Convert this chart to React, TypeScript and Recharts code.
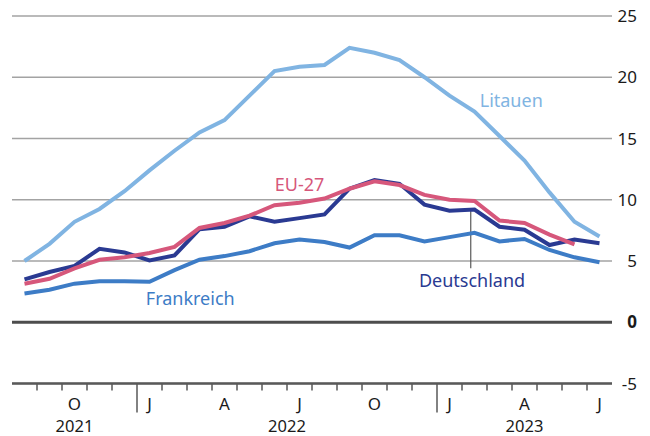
import {
  LineChart,
  Line,
  XAxis,
  YAxis,
  CartesianGrid,
  ReferenceLine,
  ReferenceDot,
} from "recharts";

// Aug 2021 .. Jul 2023, one value per month
const monthLetters = [
  "A", "S", "O", "N", "D",
  "J", "F", "M", "A", "M", "J", "J", "A", "S", "O", "N", "D",
  "J", "F", "M", "A", "M", "J", "J",
];
const litauen = [
  5.0, 6.4, 8.2, 9.25, 10.7, 12.4, 14.0, 15.5, 16.5, 18.5, 20.5, 20.85, 21.0,
  22.4, 22.0, 21.4, 20.0, 18.5, 17.2, 15.2, 13.2, 10.6, 8.2, 7.0,
];
const deutschland = [
  3.5, 4.1, 4.6, 6.0, 5.7, 5.05, 5.45, 7.6, 7.8, 8.65, 8.2, 8.5, 8.8, 10.9,
  11.6, 11.3, 9.6, 9.1, 9.2, 7.8, 7.55, 6.3, 6.75, 6.45,
];
const eu27 = [
  3.15, 3.55, 4.4, 5.1, 5.3, 5.65, 6.15, 7.7, 8.1, 8.7, 9.55, 9.75, 10.1, 10.9,
  11.5, 11.2, 10.4, 10.0, 9.9, 8.3, 8.1, 7.15, 6.35, null,
];
const frankreich = [
  2.35, 2.65, 3.15, 3.35, 3.35, 3.3, 4.25, 5.1, 5.4, 5.8, 6.45, 6.75, 6.55,
  6.1, 7.1, 7.1, 6.6, 6.95, 7.3, 6.6, 6.8, 5.9, 5.3, 4.9,
];

const quarterLabels = [2, 5, 8, 11, 14, 17, 20, 23];
const yearBreaks = [4.5, 16.5];
const yearLabels = [
  { pos: 2, text: "2021" },
  { pos: 10.5, text: "2022" },
  { pos: 20, text: "2023" },
];
const yTicks = [-5, 0, 5, 10, 15, 20, 25];

const data = monthLetters.map((m, i) => ({
  idx: i,
  month: m,
  lt: litauen[i],
  de: deutschland[i],
  eu: eu27[i],
  fr: frankreich[i],
}));

const boundaries = monthLetters.slice(1).map((_, i) => i + 0.5);
const xTicks = [...boundaries, ...quarterLabels].sort((a, b) => a - b);

const FONT = "'Noto Sans', sans-serif";

function XTick(props: any) {
  const { x, y, payload } = props;
  const v = payload.value as number;
  const year = yearLabels.find((l) => l.pos === v);
  const isBoundary = v % 1 !== 0;
  const long = yearBreaks.includes(v);
  return (
    <g>
      {isBoundary && (
        <line
          x1={x}
          x2={x}
          y1={y}
          y2={y + (long ? 29 : 7)}
          stroke="#595959"
          strokeWidth={1.5}
        />
      )}
      {!isBoundary && (
        <text
          x={x}
          y={y + 26}
          textAnchor="middle"
          fontSize={17}
          fontFamily={FONT}
          fill="#1a1a1a"
        >
          {monthLetters[v]}
        </text>
      )}
      {year && (
        <text
          x={x}
          y={y + 48}
          textAnchor="middle"
          fontSize={16.5}
          fontFamily={FONT}
          fill="#1a1a1a"
        >
          {year.text}
        </text>
      )}
    </g>
  );
}

function YTick(props: any) {
  const { x, y, payload } = props;
  return (
    <text
      x={x + 25}
      y={y + 6}
      textAnchor="end"
      fontSize={17}
      fontFamily={FONT}
      fontWeight={payload.value === 0 ? 700 : 400}
      fill="#1a1a1a"
    >
      {payload.value}
    </text>
  );
}

const lbl = (value: string, fill: string) => ({
  value,
  position: "center" as const,
  fill,
  fontSize: 18,
  fontFamily: FONT,
});

export default function App() {
  return (
    <div
      style={{
        position: "absolute",
        left: 0,
        top: 0,
        width: 650,
        height: 436,
        background: "#fff",
      }}
    >
      <LineChart
        width={650}
        height={436}
        data={data}
        margin={{ top: 16, right: 0, left: 12, bottom: 0 }}
      >
        <CartesianGrid
          vertical={false}
          stroke="#a3a3a3"
          strokeWidth={1.5}
        />
        <XAxis
          dataKey="idx"
          type="number"
          domain={[-0.5, 23.5]}
          ticks={xTicks}
          interval={0}
          height={52.5}
          tickSize={0}
          tickMargin={0}
          tickLine={false}
          axisLine={{ stroke: "#595959", strokeWidth: 2.5 }}
          tick={(p: any) => <XTick {...p} />}
        />
        <YAxis
          orientation="right"
          width={38}
          domain={[-5, 25]}
          ticks={yTicks}
          interval={0}
          tickSize={0}
          tickMargin={0}
          axisLine={false}
          tickLine={false}
          tick={(p: any) => <YTick {...p} />}
        />
        <ReferenceLine y={0} stroke="#4d4d4d" strokeWidth={3} />
        <ReferenceLine
          segment={[
            { x: 17.85, y: 9.1 },
            { x: 17.85, y: 4.4 },
          ]}
          stroke="#595959"
          strokeWidth={1.2}
        />
        <Line
          dataKey="lt"
          stroke="#80b4e2"
          strokeWidth={4}
          dot={false}
          isAnimationActive={false}
        />
        <Line
          dataKey="fr"
          stroke="#3d7cc6"
          strokeWidth={4}
          dot={false}
          isAnimationActive={false}
        />
        <Line
          dataKey="de"
          stroke="#2a3a92"
          strokeWidth={4}
          dot={false}
          isAnimationActive={false}
        />
        <Line
          dataKey="eu"
          stroke="#d6577b"
          strokeWidth={4}
          dot={false}
          isAnimationActive={false}
        />
        <ReferenceDot x={19.47} y={18.1} r={0} label={lbl("Litauen", "#80b4e2")} />
        <ReferenceDot x={11.0} y={11.25} r={0} label={lbl("EU-27", "#d6577b")} />
        <ReferenceDot x={6.63} y={1.95} r={0} label={lbl("Frankreich", "#3d7cc6")} />
        <ReferenceDot x={17.9} y={3.42} r={0} label={lbl("Deutschland", "#2a3a92")} />
      </LineChart>
    </div>
  );
}
